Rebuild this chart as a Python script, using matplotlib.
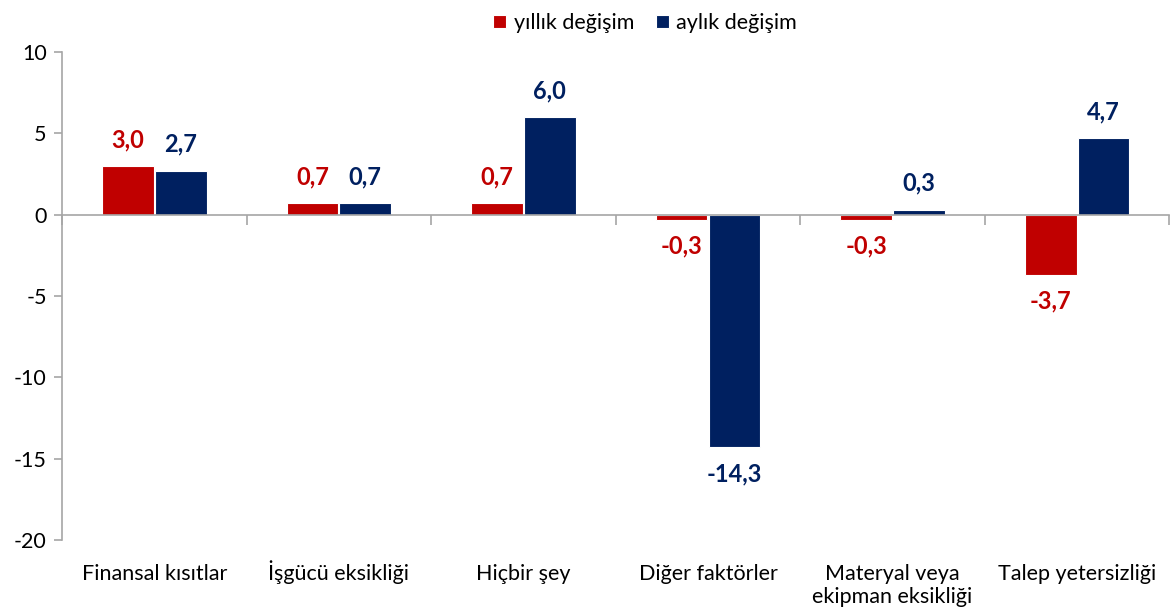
import matplotlib.pyplot as plt
import matplotlib.transforms as mtransforms
import numpy as np

plt.rcParams['font.family'] = ['Lato', 'DejaVu Sans']
plt.rcParams['axes.unicode_minus'] = False

categories = ['Finansal kısıtlar', 'İşgücü eksikliği', 'Hiçbir şey',
              'Diğer faktörler', 'Materyal veya\nekipman eksikliği', 'Talep yetersizliği']
yillik = [3.0, 0.7, 0.7, -0.3, -0.3, -3.7]
aylik = [2.7, 0.7, 6.0, -14.3, 0.3, 4.7]
yticks = [-20, -15, -10, -5, 0, 5, 10]

RED = '#C00000'
NAVY = '#002060'
GREY = '#A6A6A6'


def add_labels(ax, xs, values, color):
    for x, v in zip(xs, values):
        off = 19 if v >= 0 else -19
        ax.annotate(f'{v:.1f}'.replace('.', ','), (x, v), xytext=(0, off),
                    textcoords='offset points', ha='center', va='center',
                    color=color, fontsize=17, fontweight='bold')


def add_categories(ax, xs, names):
    # first-line baselines kept level, even with accented capitals
    trans = mtransforms.blended_transform_factory(ax.transData, ax.transAxes)
    for x, name in zip(xs, names):
        for i, line in enumerate(name.split('\n')):
            ax.annotate(line, (x, 0), xycoords=trans, xytext=(0, -29 - i * 16.5),
                        textcoords='offset points', ha='center', va='baseline',
                        fontsize=15.5, annotation_clip=False)


fig = plt.figure(figsize=(11.73, 6.16), dpi=100)
ax = fig.add_axes([0.0529, 0.1234, 0.9441, 0.7922])

x = np.arange(len(categories))
w = 0.28
off = 0.143
ax.bar(x - off, yillik, w, color=RED, edgecolor='white', linewidth=0.8,
       label='yıllık değişim', zorder=3)
ax.bar(x + off, aylik, w, color=NAVY, edgecolor='white', linewidth=0.8,
       label='aylık değişim', zorder=3)
add_labels(ax, x - off, yillik, RED)
add_labels(ax, x + off, aylik, NAVY)
add_categories(ax, x, categories)

ax.set_xlim(-0.5, len(categories) - 0.5)
ax.set_ylim(-20, 10)
ax.set_yticks(yticks)
ax.tick_params(axis='y', length=6, width=1.2, color=GREY, labelsize=15.5, pad=5)

for s in ['top', 'right']:
    ax.spines[s].set_visible(False)
ax.spines['left'].set_color(GREY)
ax.spines['left'].set_linewidth(1.2)
ax.spines['bottom'].set_position(('data', 0))
ax.spines['bottom'].set_color(GREY)
ax.spines['bottom'].set_linewidth(1.2)
ax.spines['bottom'].set_zorder(4)
ax.set_xticks(np.arange(-0.5, len(categories), 1.0))
ax.set_xticklabels([])
ax.tick_params(axis='x', length=7, width=1.2, color=GREY)

fig.legend(loc='upper center', bbox_to_anchor=(0.55, 1.01), ncol=2, frameon=False,
           fontsize=15.5, handlelength=0.6, handleheight=0.6, handletextpad=0.35,
           columnspacing=1.0)

fig.savefig('out.png', dpi=100)
